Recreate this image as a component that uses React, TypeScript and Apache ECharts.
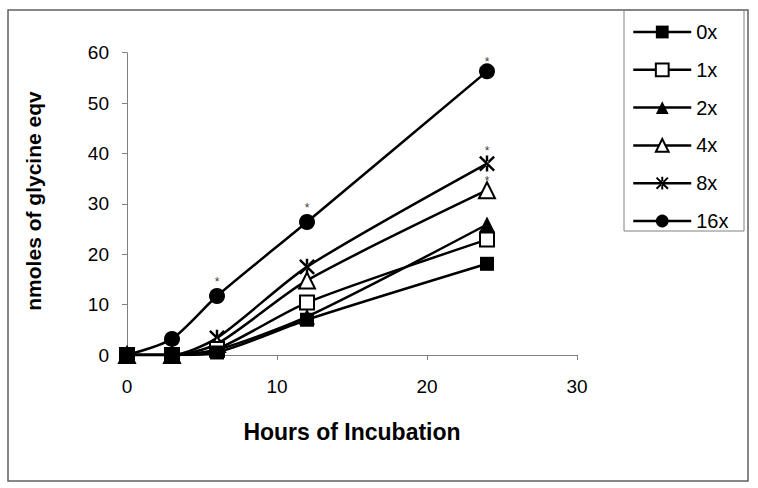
import React, { useEffect, useRef } from "react";
import * as echarts from "echarts";

const hours = [0, 3, 6, 12, 24];
const seriesNames = ["0x", "1x", "2x", "4x", "8x", "16x"];
const v0x = [0, 0, 0.5, 7.0, 18.1];
const v1x = [0, 0, 1.2, 10.4, 22.9];
const v2x = [0, 0, 1.0, 7.6, 25.9];
const v4x = [0, 0, 2.2, 14.8, 32.7];
const v8x = [0, 0, 3.4, 17.5, 38.0];
const v16x = [0, 3.2, 11.7, 26.4, 56.3];
// significance marks (*) per point
const sig0x = [false, false, false, false, false];
const sig1x = [false, false, false, false, false];
const sig2x = [false, false, false, false, false];
const sig4x = [false, false, false, false, true];
const sig8x = [false, false, false, false, true];
const sig16x = [false, false, true, true, true];
const xTicks = [0, 10, 20, 30];
const yTicks = [0, 10, 20, 30, 40, 50, 60];

const FONT = "'Liberation Sans', Arial, sans-serif";

const asteriskPath =
  "path://M-1.2,-8L1.2,-8L1.2,8L-1.2,8Z" +
  "M-6.15,-7.85L7.85,6.15L6.15,7.85L-7.85,-6.15Z" +
  "M-6.15,7.85L7.85,-6.15L6.15,-7.85L-7.85,6.15Z";

// starLift: pixel distance of the "*" mark above its point
const styles = [
  { symbol: "rect", size: 14, fill: "#000", starLift: 16 },
  { symbol: "rect", size: 14, fill: "#fff", starLift: 16 },
  { symbol: "triangle", size: 16, fill: "#000", starLift: 16 },
  { symbol: "triangle", size: 16, fill: "#fff", starLift: 12 },
  { symbol: asteriskPath, size: 16, fill: "#000", starLift: 16 },
  { symbol: "circle", size: 16, fill: "#000", starLift: 17 },
];
const lastStarLift16x = 12;

export default function App() {
  const ref = useRef<HTMLDivElement>(null);
  useEffect(() => {
    if (!ref.current) return;
    const chart = echarts.init(ref.current, undefined, { renderer: "svg" });
    const values = [v0x, v1x, v2x, v4x, v8x, v16x];
    const sigs = [sig0x, sig1x, sig2x, sig4x, sig8x, sig16x];
    const lineSeries = seriesNames
      .map((name, i) => ({
        type: "line",
        name,
        color: "#000",
        smooth: 0.25,
        symbol: styles[i].symbol,
        symbolSize: styles[i].size,
        showAllSymbol: true,
        z: 10 - i,
        lineStyle: { color: "#000", width: 2.5 },
        itemStyle: {
          color: styles[i].fill,
          borderColor: "#000",
          borderWidth: styles[i].fill === "#fff" ? 2 : 0,
        },
        emphasis: { disabled: true },
        data: hours.map((h, j) => [h, values[i][j]]),
      }))
      .reverse();

    const starData: any[] = [];
    seriesNames.forEach((_, i) => {
      hours.forEach((h, j) => {
        if (!sigs[i][j]) return;
        const lift =
          i === 5 && j === hours.length - 1 ? lastStarLift16x : styles[i].starLift;
        starData.push({
          value: [h, values[i][j]],
          label: { offset: [0, -(lift - 3)] },
        });
      });
    });

    const starSeries = {
      type: "scatter",
      name: "significance",
      symbolSize: 0,
      z: 20,
      itemStyle: { color: "rgba(0,0,0,0)" },
      emphasis: { disabled: true },
      label: {
        show: true,
        position: "inside",
        formatter: "*",
        fontSize: 12,
        fontFamily: FONT,
        color: "#000",
        textBorderWidth: 0,
      },
      data: starData,
    };

    chart.setOption({
      animation: false,
      backgroundColor: "#fff",
      grid: { left: 127, right: 181, top: 52.7, bottom: 133 },
      xAxis: {
        type: "value",
        min: 0,
        max: 30,
        interval: 10,
        axisLine: { show: true, lineStyle: { color: "#808080", width: 1 } },
        axisTick: { show: true, length: 5, lineStyle: { color: "#808080" } },
        splitLine: { show: false },
        axisLabel: {
          margin: 22,
          fontSize: 19,
          fontFamily: FONT,
          color: "#000",
          formatter: (v: number) => (xTicks.includes(v) ? String(v) : ""),
        },
      },
      yAxis: {
        type: "value",
        min: 0,
        max: 60,
        interval: 10,
        axisLine: { show: true, lineStyle: { color: "#808080", width: 1 } },
        axisTick: { show: true, length: 5, lineStyle: { color: "#808080" } },
        splitLine: { show: false },
        axisLabel: {
          margin: 18,
          fontSize: 19,
          fontFamily: FONT,
          color: "#000",
          formatter: (v: number) => (yTicks.includes(v) ? String(v) : ""),
        },
      },
      legend: {
        orient: "vertical",
        left: 632,
        top: 22,
        padding: 0,
        itemWidth: 58,
        itemHeight: 16,
        itemGap: 17.8,
        data: seriesNames,
        selectedMode: false,
        lineStyle: { width: 2.5, color: "#000" },
        textStyle: { fontSize: 20, fontFamily: FONT, color: "#000" },
      },
      graphic: [
        {
          type: "rect",
          shape: { x: 8, y: 10, width: 740, height: 471 },
          style: { fill: "none", stroke: "#606060", lineWidth: 1.5 },
          silent: true,
          z: -1,
        },
        {
          type: "rect",
          shape: { x: 624, y: 10, width: 120, height: 221 },
          style: { fill: "none", stroke: "#808080", lineWidth: 1 },
          silent: true,
        },
        {
          type: "text",
          x: 33,
          y: 201,
          rotation: Math.PI / 2,
          style: {
            text: "nmoles of glycine eqv",
            fontSize: 21,
            fontWeight: "bold",
            fontFamily: FONT,
            fill: "#000",
            align: "center",
            verticalAlign: "middle",
          },
        },
        {
          type: "text",
          x: 352,
          y: 432,
          style: {
            text: "Hours of Incubation",
            fontSize: 23,
            fontWeight: "bold",
            fontFamily: FONT,
            fill: "#000",
            align: "center",
            verticalAlign: "middle",
          },
        },
      ],
      series: [...lineSeries, starSeries],
    });
    return () => chart.dispose();
  }, []);
  return (
    <div
      ref={ref}
      style={{ position: "fixed", left: 0, top: 0, width: 758, height: 488, background: "#fff" }}
    />
  );
}
